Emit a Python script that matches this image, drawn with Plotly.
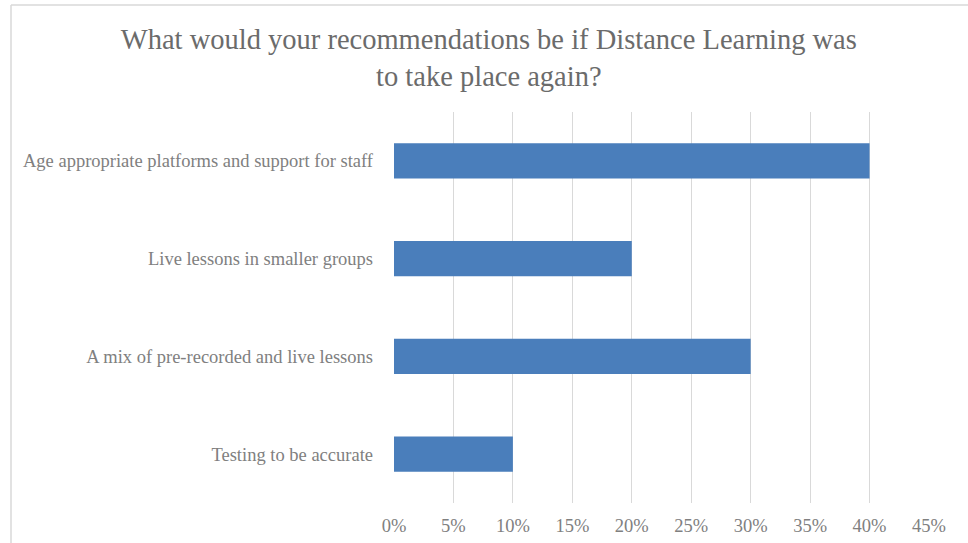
import plotly.graph_objects as go

categories = [
    "Age appropriate platforms and support for staff",
    "Live lessons in smaller groups",
    "A mix of pre-recorded and live lessons",
    "Testing to be accurate",
]
values = [0.40, 0.20, 0.30, 0.10]
tick_vals = [0, 0.05, 0.10, 0.15, 0.20, 0.25, 0.30, 0.35, 0.40, 0.45]
tick_text = ["0%", "5%", "10%", "15%", "20%", "25%", "30%", "35%", "40%", "45%"]

font_family = "Liberation Serif, Times New Roman, serif"

fig = go.Figure(go.Bar(
    x=values,
    y=categories,
    orientation="h",
    marker=dict(color="#4a7ebb", line=dict(width=0)),
    width=0.36,
))

fig.update_layout(
    width=968,
    height=543,
    paper_bgcolor="white",
    plot_bgcolor="white",
    margin=dict(l=394, r=39, t=112, b=40),
    showlegend=False,
    title=dict(
        text="What would your recommendations be if Distance Learning was<br>to take place again?",
        x=0.505,
        xanchor="center",
        y=1 - 49 / 543,
        yanchor="top",
        font=dict(family=font_family, size=28.5, color="#6b6b6b"),
    ),
    xaxis=dict(
        range=[0, 0.45],
        tickvals=tick_vals,
        ticktext=tick_text,
        showgrid=True,
        gridcolor="#d9d9d9",
        gridwidth=1,
        zeroline=False,
        showline=False,
        ticks="",
        ticklabelstandoff=9,
        tickfont=dict(family=font_family, size=18.5, color="#808080"),
        fixedrange=True,
        automargin=False,
    ),
    yaxis=dict(
        categoryorder="array",
        categoryarray=list(reversed(categories)),
        showgrid=False,
        zeroline=False,
        showline=False,
        ticks="",
        ticklabelstandoff=20,
        tickfont=dict(family=font_family, size=18.5, color="#808080"),
        fixedrange=True,
        automargin=False,
    ),
    shapes=[
        dict(type="line", xref="paper", yref="paper",
             x0=(11 - 394) / 535, x1=2, y0=(503 - 5) / 391, y1=(503 - 5) / 391,
             line=dict(color="#d9d9d9", width=1.5)),
        dict(type="line", xref="paper", yref="paper",
             x0=(11 - 394) / 535, x1=(11 - 394) / 535, y0=-1, y1=(503 - 5) / 391,
             line=dict(color="#d9d9d9", width=1.5)),
    ],
)

fig.write_html("out.html", config={"displayModeBar": False},
               post_script="document.body.style.margin='0';")
